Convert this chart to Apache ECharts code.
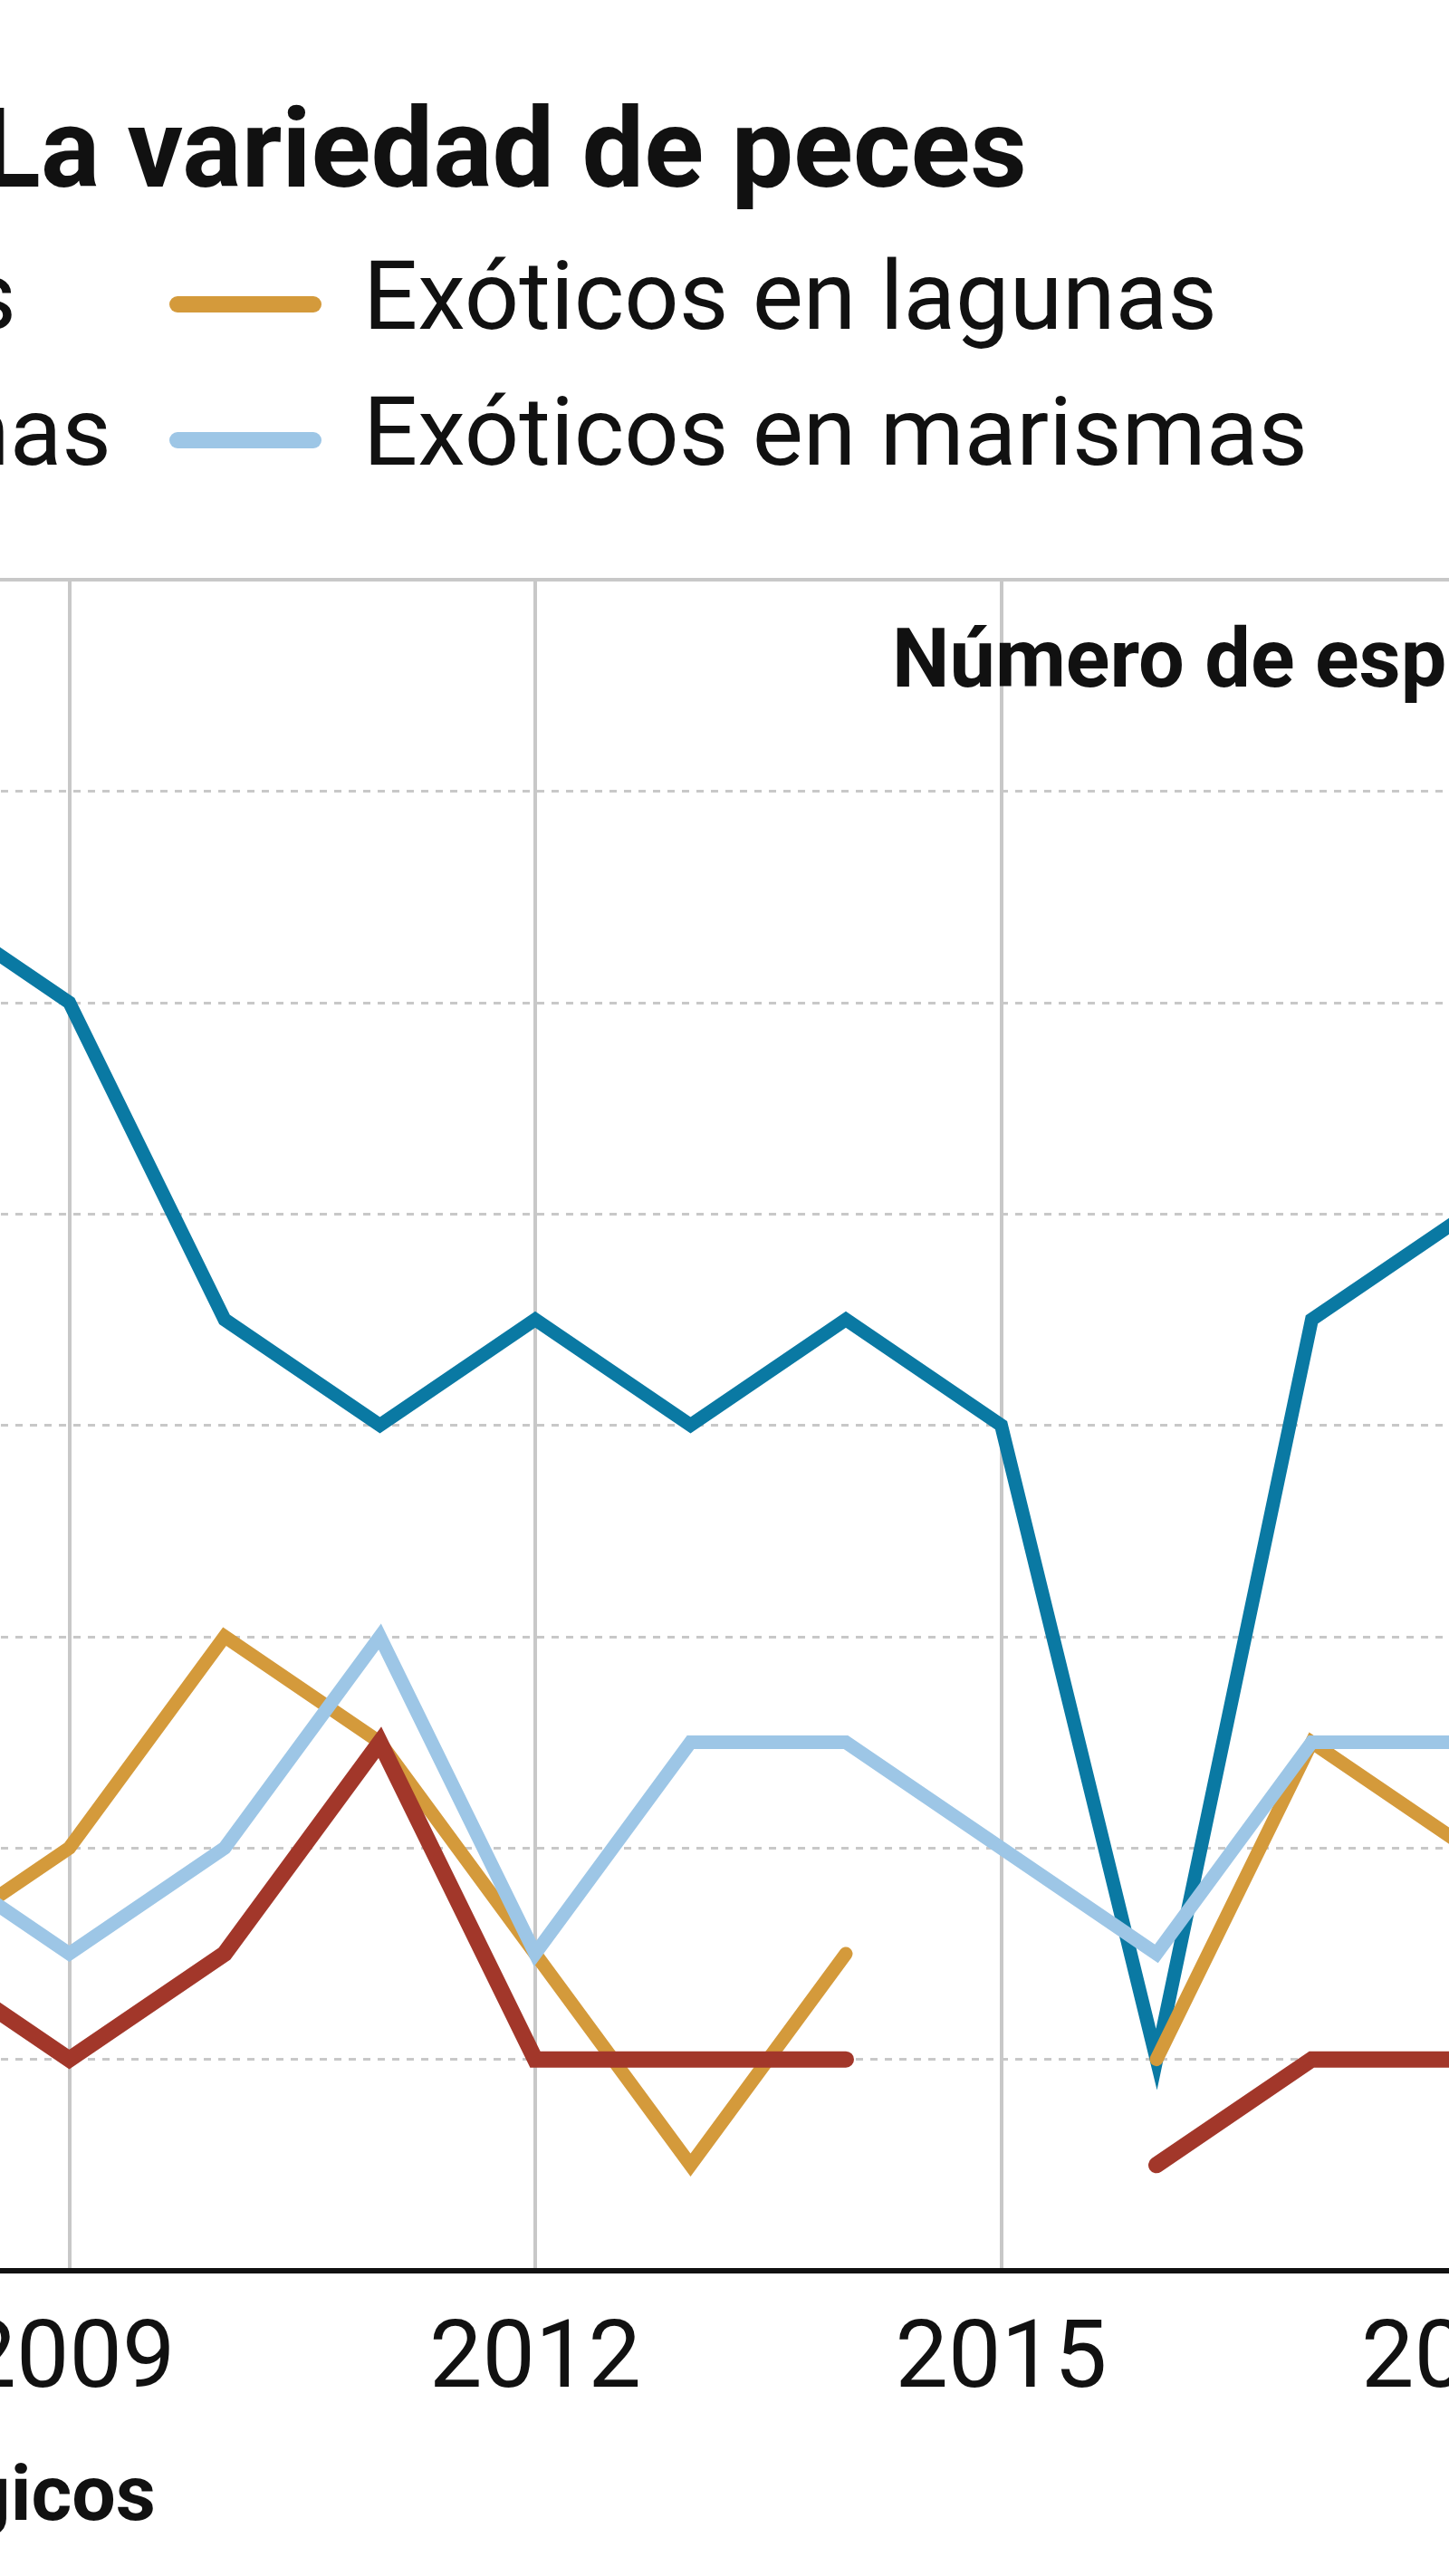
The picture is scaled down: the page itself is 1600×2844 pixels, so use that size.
<!DOCTYPE html>
<html>
<head>
<meta charset="utf-8">
<script src="https://cdn.jsdelivr.net/npm/echarts@6/dist/echarts.min.js"></script>
<style>html,body{margin:0;padding:0;background:#fff}#chart{width:1600px;height:2844px}</style>
</head>
<body>
<div id="chart"></div>
<script>
// datos
const years = ['2008', '2009', '2010', '2011', '2012', '2013', '2014', '2015', '2016', '2017', '2018'];
const nativosLagunas = [13, 12, 9, 8, 9, 8, 9, 8, 2, 9, 10];
const nativosMarismas = [3, 2, 3, 5, 2, 2, 2, null, 1, 2, 2];
const exoticosLagunas = [3, 4, 6, 5, 3, 1, 3, null, 2, 5, 4];
const exoticosMarismas = [4, 3, 4, 6, 3, 5, 5, 4, 3, 5, 5];

const FONT = 'Roboto';
const chart = echarts.init(document.getElementById('chart'));

function serie(name, data, color, width) {
  return {
    name, type: 'line', data, symbol: 'none', connectNulls: false,
    lineStyle: { color, width, cap: 'round', join: 'miter' },
    itemStyle: { color },
  };
}

// leyenda dibujada a mano (la columna izquierda queda cortada)
function legendItem(x, y, color, text) {
  return [
    { type: 'line', shape: { x1: x, y1: y, x2: x + 150, y2: y }, style: { stroke: color, lineWidth: 18, lineCap: 'round' } },
    { type: 'text', style: { x: x + 205, y, text, font: '106px ' + FONT, fill: '#111', textVerticalAlign: 'middle' } },
  ];
}

const option = {
  animation: false,
  grid: { left: -95, right: -20, top: 640, bottom: 337, outerBoundsMode: 'none', containLabel: false },
  xAxis: {
    type: 'category', data: years, boundaryGap: false,
    axisLine: { lineStyle: { color: '#111', width: 6 } },
    axisTick: { show: false },
    axisLabel: {
      interval: (i) => (i - 1) % 3 === 0,
      fontFamily: FONT, fontSize: 104, color: '#111', margin: 50,
    },
    splitLine: { show: true, lineStyle: { color: '#c8c8c8', width: 4 } },
  },
  yAxis: {
    type: 'value', min: 0, max: 16, interval: 2,
    axisLine: { show: false }, axisTick: { show: false }, axisLabel: { show: false },
    splitLine: { lineStyle: { color: '#c8c8c8', width: 3, type: [8, 8] } },
  },
  series: [
    serie('Nativos en lagunas', nativosLagunas, '#0a79a3', 15),
    serie('Exóticos en lagunas', exoticosLagunas, '#d49a3b', 15),
    serie('Exóticos en marismas', exoticosMarismas, '#9dc6e6', 15),
    serie('Nativos en marismas', nativosMarismas, '#a2372a', 18),
  ],
  graphic: [
    { type: 'line', shape: { x1: 0, y1: 640, x2: 1600, y2: 640 }, style: { stroke: '#c8c8c8', lineWidth: 4 }, z: 10 },
    { type: 'text', style: { x: 1134, y: 175, text: 'La variedad de peces', font: 'bold 122px ' + FONT, fill: '#111', textAlign: 'right', textVerticalAlign: 'middle' } },
    { type: 'text', style: { x: 18, y: 336, text: 'Nativos en lagunas', font: '106px ' + FONT, fill: '#111', textAlign: 'right', textVerticalAlign: 'middle' } },
    { type: 'text', style: { x: 123, y: 486, text: 'Nativos en marismas', font: '106px ' + FONT, fill: '#111', textAlign: 'right', textVerticalAlign: 'middle' } },
    ...legendItem(196, 336, '#d49a3b', 'Exóticos en lagunas'),
    ...legendItem(196, 486, '#9dc6e6', 'Exóticos en marismas'),
    { type: 'text', style: { x: 985, y: 735, text: 'Número de especies', font: 'bold 90px ' + FONT, fill: '#111', textVerticalAlign: 'middle' }, z: 20 },
    { type: 'text', style: { x: 172, y: 2760, text: 'Fuente: muestreos ictiológicos', font: 'bold 86px ' + FONT, fill: '#111', textAlign: 'right', textVerticalAlign: 'middle' } },
  ],
};

chart.setOption(option);
</script>
</body>
</html>
